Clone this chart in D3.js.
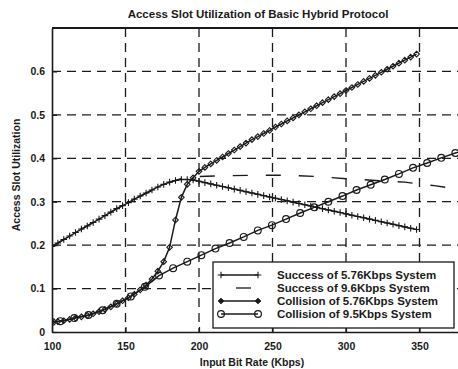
<!DOCTYPE html>
<html>
<head>
<meta charset="utf-8">
<script src="https://cdn.jsdelivr.net/npm/d3@7"></script>
<style>
html,body{margin:0;padding:0;background:#fff;}
svg{display:block;font-family:"Liberation Sans",Arial,sans-serif;}
</style>
</head>
<body>
<svg id="chart" width="458" height="369"></svg>
<script>
// ---- data ----
const titleText = "Access Slot Utilization of Basic Hybrid Protocol";
const xLabelText = "Input Bit Rate (Kbps)";
const yLabelText = "Access Slot Utilization";
const xTicks = [100, 150, 200, 250, 300, 350];
const yTicks = [0, 0.1, 0.2, 0.3, 0.4, 0.5, 0.6];
const yTickLabels = ["0", "0.1", "0.2", "0.3", "0.4", "0.5", "0.6"];
const seriesNames = [
  "Success of 5.76Kbps System",
  "Success of 9.6Kbps System",
  "Collision of 5.76Kbps System",
  "Collision of 9.5Kbps System"
];

// 5.76 Kbps system input rates
const rate576 = [100,104,108,112,116,120,124,128,132,136,140,144,148,152,156,160,164,168,172,176,
  180,184,188,192,196,200,204,208,212,216,220,224,228,232,236,240,244,248,252,256,
  260,264,268,272,276,280,284,288,292,296,300,304,308,312,316,320,324,328,332,336,340,344,348];
const success576 = [.197,.205,.213,.221,.229,.237,.244,.252,.260,.268,.276,.284,.291,.298,.306,.313,.320,.327,.334,.340,
  .345,.349,.351,.351,.350,.347,.344,.341,.338,.335,.332,.329,.326,.323,.320,.317,.314,.311,.308,.305,
  .302,.299,.296,.293,.290,.287,.284,.281,.278,.275,.272,.269,.266,.263,.260,.257,.254,.251,.248,.245,.242,.239,.236];
const collision576 = [.023,.024,.026,.029,.032,.035,.038,.042,.047,.052,.058,.065,.072,.079,.087,.097,.108,.122,.140,.162,
  .195,.258,.310,.340,.355,.370,.379,.387,.395,.403,.411,.419,.427,.435,.443,.450,.457,.464,.472,.479,
  .486,.493,.500,.507,.514,.521,.528,.535,.542,.549,.556,.563,.570,.577,.584,.591,.598,.605,.612,.619,.626,.633,.640];

// 9.6 Kbps system
const rate96s = [100,120,140,160,180,190,200,220,240,260,280,300,320,340,360,380,400];
const success96 = [.197,.237,.276,.313,.345,.355,.358,.360,.361,.361,.358,.353,.349,.345,.337,.327,.315];
const rate96c = [100,105.6,115.2,124.8,134.4,144,153.6,163.2,172.8,182.4,192,201.6,211.2,220.8,230.4,240,
  249.6,259.2,268.8,278.4,288,297.6,307.2,316.8,326.4,336,345.6,355.2,364.8,374.4,384];
const collision96 = [.023,.025,.032,.039,.050,.065,.082,.104,.130,.147,.162,.177,.192,.205,.219,.234,
  .246,.260,.274,.287,.300,.313,.327,.339,.351,.364,.378,.389,.401,.412,.423];

// ---- layout ----
const svg = d3.select("#chart");
const plotL = 52, plotT = 28, plotB = 332, plotR = 493;
const x = d3.scaleLinear().domain([100, 400]).range([plotL, plotR]);
const y = d3.scaleLinear().domain([0, 0.7]).range([plotB, plotT]);
const ink = "#1a1a1a";

svg.append("defs").append("clipPath").attr("id", "clip")
  .append("rect").attr("x", plotL).attr("y", plotT).attr("width", plotR - plotL).attr("height", plotB - plotT);

// grid
const grid = svg.append("g").attr("stroke", ink).attr("stroke-width", 1.3).attr("stroke-dasharray", "9,6");
grid.selectAll("line.v").data(xTicks.filter(d => d > 100)).join("line")
  .attr("x1", d => x(d)).attr("x2", d => x(d)).attr("y1", plotT).attr("y2", plotB);
grid.selectAll("line.h").data(yTicks.filter(d => d > 0)).join("line")
  .attr("x1", plotL).attr("x2", plotR).attr("y1", d => y(d)).attr("y2", d => y(d));

// axes
const xAxis = d3.axisBottom(x).tickValues(xTicks).tickSizeInner(-5).tickSizeOuter(0).tickPadding(11);
const gx = svg.append("g").attr("transform", `translate(0,${plotB})`).call(xAxis);
const yAxis = d3.axisLeft(y).tickValues(yTicks).tickFormat((d, i) => yTickLabels[i]).tickSizeInner(-5).tickSizeOuter(0).tickPadding(7);
const gy = svg.append("g").attr("transform", `translate(${plotL},0)`).call(yAxis);
[gx, gy].forEach(g => {
  g.select(".domain").attr("stroke", ink).attr("stroke-width", 1.6);
  g.selectAll(".tick line").attr("stroke", ink).attr("stroke-width", 1.2);
  g.selectAll(".tick text").attr("fill", ink).attr("font-size", 10.5).attr("font-weight", "bold")
    .attr("font-family", "Liberation Sans, Arial, sans-serif");
});
// top border
svg.append("line").attr("x1", plotL).attr("x2", plotR).attr("y1", plotT).attr("y2", plotT)
  .attr("stroke", ink).attr("stroke-width", 1.8);

// series
const plot = svg.append("g").attr("clip-path", "url(#clip)");
const line = d3.line().x(d => x(d[0])).y(d => y(d[1]));
const zip = (xs, ys) => xs.map((v, i) => [v, ys[i]]);

const s1 = zip(rate576, success576);
const s2 = zip(rate96s, success96);
const s3 = zip(rate576, collision576);
const s4 = zip(rate96c, collision96);

function plusPath(s) { return `M${-s},0H${s}M0,${-s}V${s}`; }
function diamondPath(s) { return `M0,${-s}L${s},0L0,${s}L${-s},0Z`; }

plot.append("path").datum(s2).attr("d", line).attr("fill", "none").attr("stroke", ink)
  .attr("stroke-width", 1.4).attr("stroke-dasharray", "15,18");

plot.append("path").datum(s1).attr("d", line).attr("fill", "none").attr("stroke", ink).attr("stroke-width", 1.5);
plot.append("g").selectAll("path").data(s1).join("path")
  .attr("transform", d => `translate(${x(d[0])},${y(d[1])})`)
  .attr("d", plusPath(3.3)).attr("stroke", ink).attr("stroke-width", 1.1).attr("fill", "none");

plot.append("path").datum(s3).attr("d", line).attr("fill", "none").attr("stroke", ink).attr("stroke-width", 1.5);
plot.append("g").selectAll("path").data(s3).join("path")
  .attr("transform", d => `translate(${x(d[0])},${y(d[1])})`)
  .attr("d", diamondPath(2.8)).attr("stroke", ink).attr("stroke-width", 1.1).attr("fill", "none");

plot.append("path").datum(s4).attr("d", line).attr("fill", "none").attr("stroke", ink).attr("stroke-width", 1.5);
plot.append("g").selectAll("circle").data(s4).join("circle")
  .attr("cx", d => x(d[0])).attr("cy", d => y(d[1])).attr("r", 3.4)
  .attr("stroke", ink).attr("stroke-width", 1.2).attr("fill", "none");

// title & labels
svg.append("text").attr("x", 258).attr("y", 18).attr("text-anchor", "middle")
  .attr("font-size", 11.5).attr("font-weight", "bold").attr("fill", ink).text(titleText);
svg.append("text").attr("x", 252).attr("y", 366).attr("text-anchor", "middle")
  .attr("font-size", 10.5).attr("font-weight", "bold").attr("fill", ink).text(xLabelText);
svg.append("text").attr("transform", "translate(20,175) rotate(-90)").attr("text-anchor", "middle")
  .attr("font-size", 10.5).attr("font-weight", "bold").attr("fill", ink).text(yLabelText);

// legend
const lg = svg.append("g");
lg.append("rect").attr("x", 213).attr("y", 262).attr("width", 241).attr("height", 66)
  .attr("fill", "#fff").attr("stroke", ink).attr("stroke-width", 1.3);
const rowsY = [275, 288, 301, 314];
const sx1 = 221, sx2 = 258;
seriesNames.forEach((name, i) => {
  const yy = rowsY[i];
  const ln = lg.append("line").attr("x1", sx1).attr("x2", sx2).attr("y1", yy).attr("y2", yy)
    .attr("stroke", ink).attr("stroke-width", 1.3);
  if (i === 1) ln.attr("stroke-dasharray", "15,18").attr("stroke-dashoffset", 18);
  [sx1, sx2].forEach(px => {
    if (i === 0) lg.append("path").attr("transform", `translate(${px},${yy})`).attr("d", plusPath(3.3))
      .attr("stroke", ink).attr("stroke-width", 1.1).attr("fill", "none");
    if (i === 2) lg.append("path").attr("transform", `translate(${px},${yy})`).attr("d", diamondPath(2.8))
      .attr("stroke", ink).attr("stroke-width", 1).attr("fill", ink);
    if (i === 3) lg.append("circle").attr("cx", px).attr("cy", yy).attr("r", 3.4)
      .attr("stroke", ink).attr("stroke-width", 1.2).attr("fill", "none");
  });
  lg.append("text").attr("x", 277).attr("y", yy + 4).attr("font-size", 11.5).attr("font-weight", "bold")
    .attr("fill", ink).text(name);
});
</script>
</body>
</html>
